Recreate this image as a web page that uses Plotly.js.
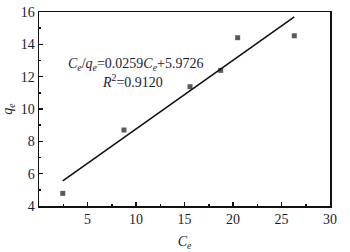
<!DOCTYPE html>
<html>
<head>
<meta charset="utf-8">
<script src="https://cdn.plot.ly/plotly-3.0.1.min.js"></script>
<style>html,body{margin:0;padding:0;background:#fff;}#chart{width:350px;height:252px;}</style>
</head>
<body>
<div id="chart"></div>
<script>
// data
var ceValues = [2.45, 8.76, 15.57, 18.73, 20.48, 26.32];
var qeValues = [4.78, 8.70, 11.38, 12.39, 14.41, 14.53];
var fitX = [2.45, 26.32];
var fitY = [5.55, 15.70];
var xTickVals = [5, 10, 15, 20, 25, 30];
var xMinorVals = [2.5, 7.5, 12.5, 17.5, 22.5, 27.5];
var yTickVals = [4, 6, 8, 10, 12, 14, 16];
var eqText = '<i>C</i><sub><i>e</i></sub>/<i>q</i><sub><i>e</i></sub>=0.0259<i>C</i><sub><i>e</i></sub>+5.9726';
var r2Text = '<i>R</i><sup>2</sup>=0.9120';

var txt = '#1c1c30';
var font = {family: 'Liberation Serif, Times New Roman, serif', size: 14, color: txt};

var traces = [
  {x: ceValues, y: qeValues, type: 'scatter', mode: 'markers',
   marker: {symbol: 'square', size: 5, color: '#5a5a5a'}, hoverinfo: 'skip'},
  {x: fitX, y: fitY, type: 'scatter', mode: 'lines',
   line: {color: '#111', width: 1.6}, hoverinfo: 'skip'}
];

var layout = {
  width: 350, height: 252,
  margin: {l: 39, r: 20, t: 12, b: 46},
  paper_bgcolor: '#fff', plot_bgcolor: '#fff',
  showlegend: false,
  font: font,
  xaxis: {
    range: [0, 30], tickmode: 'array', tickvals: xTickVals,
    ticks: 'inside', ticklen: 4, tickwidth: 1.5, tickcolor: '#111',
    minor: {tickmode: 'array', tickvals: xMinorVals, ticks: 'inside', ticklen: 2, tickwidth: 1.5, tickcolor: '#111', showgrid: false},
    showline: true, linecolor: '#111', linewidth: 1.5, mirror: true,
    showgrid: false, zeroline: false, tickfont: font,
    title: {text: '<i>C</i><sub><i>e</i></sub>', font: font, standoff: 10}
  },
  yaxis: {
    range: [4, 16], tickmode: 'array', tickvals: yTickVals,
    ticks: 'inside', ticklen: 4, tickwidth: 1.5, tickcolor: '#111',
    minor: {dtick: 1, tick0: 4, ticks: 'inside', ticklen: 2, tickwidth: 1.5, tickcolor: '#111', showgrid: false},
    showline: true, linecolor: '#111', linewidth: 1.5, mirror: true,
    showgrid: false, zeroline: false, tickfont: font,
    title: {text: '<i>q</i><sub><i>e</i></sub>', font: font, standoff: 6}
  },
  annotations: [
    {text: eqText, xref: 'paper', yref: 'paper', x: 0.33, y: 0.73, showarrow: false, font: font, xanchor: 'center', yanchor: 'middle'},
    {text: r2Text, xref: 'paper', yref: 'paper', x: 0.32, y: 0.645, showarrow: false, font: font, xanchor: 'center', yanchor: 'middle'}
  ]
};

Plotly.newPlot('chart', traces, layout, {staticPlot: true, displayModeBar: false});
</script>
</body>
</html>
